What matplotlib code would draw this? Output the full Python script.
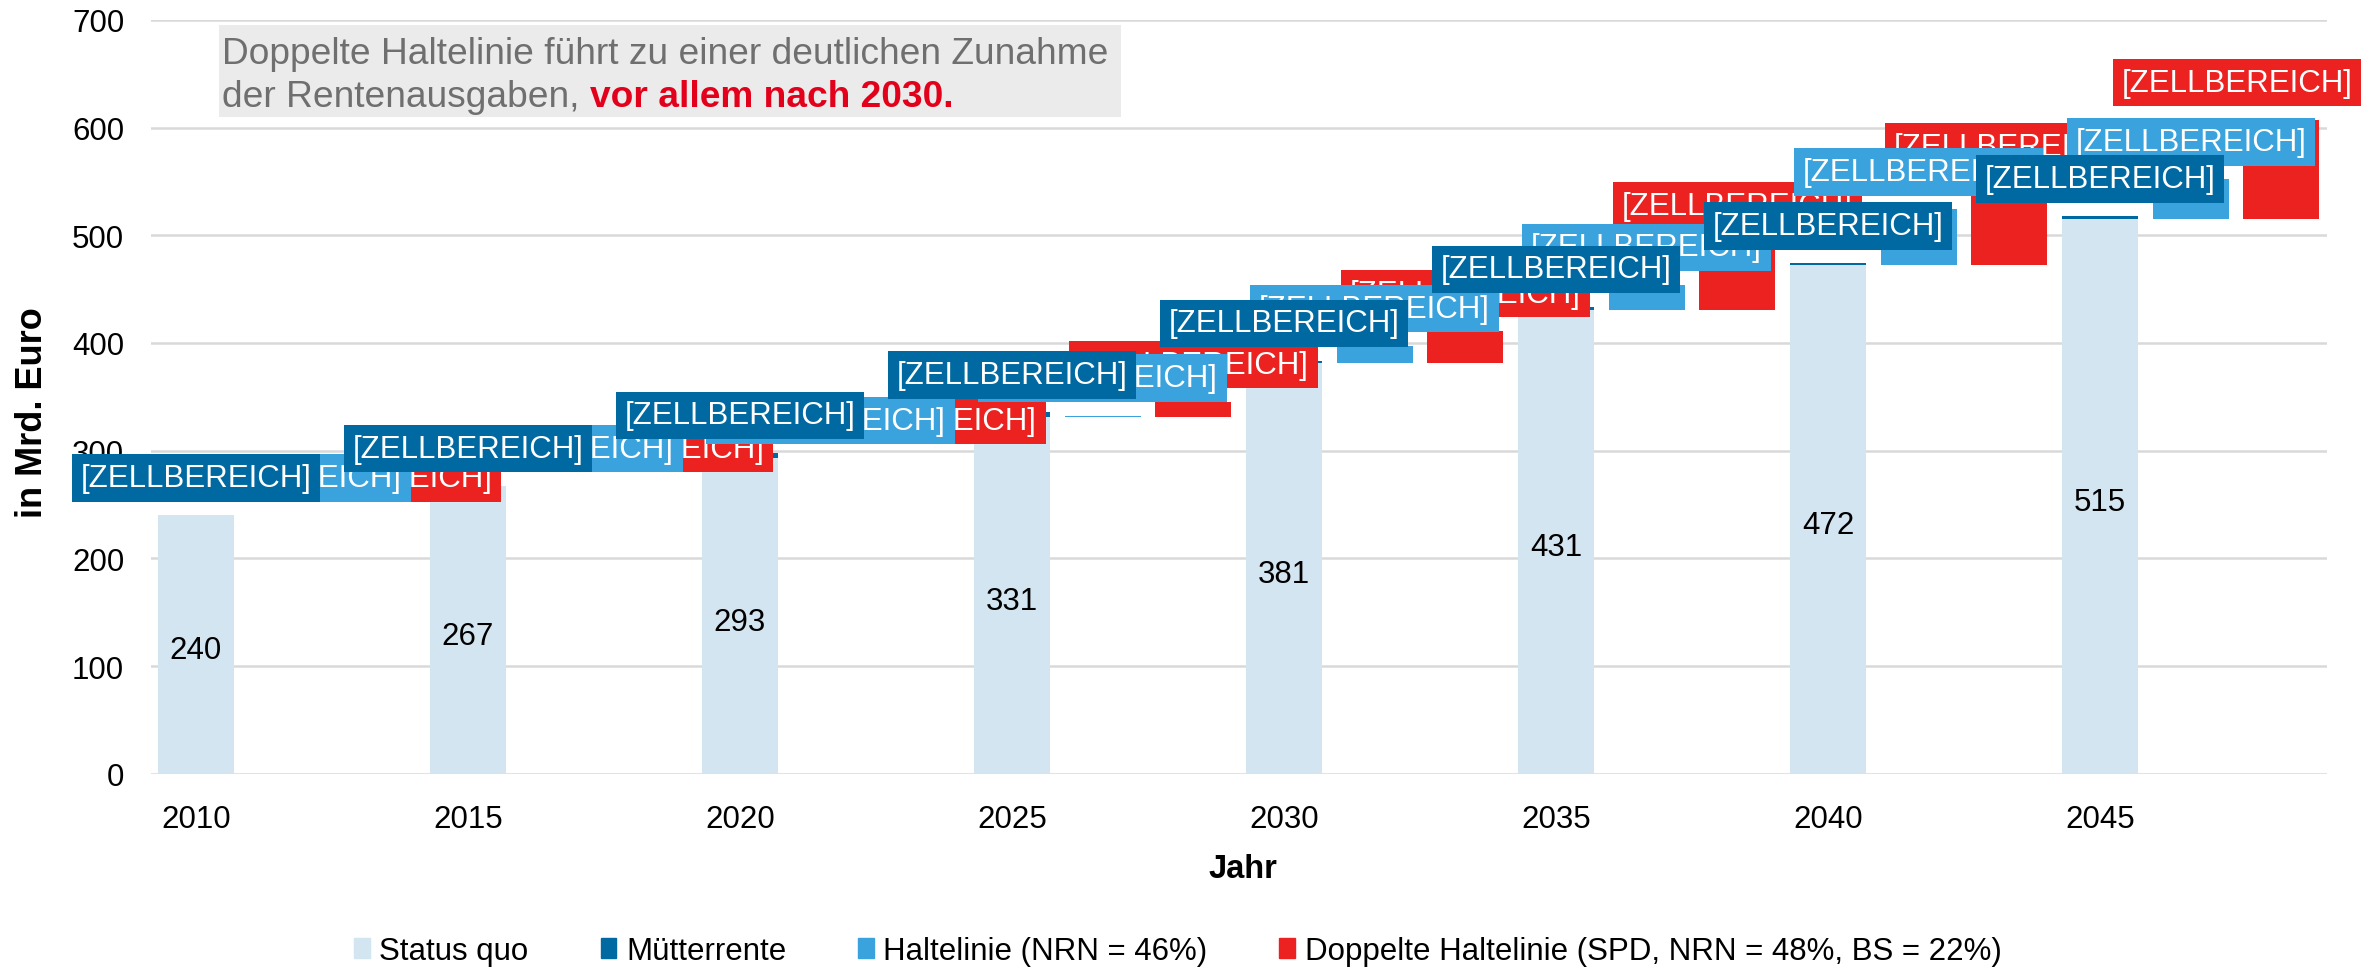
import numpy as np
import matplotlib.pyplot as plt
from matplotlib.patches import Rectangle, Patch

plt.rcParams['font.family'] = ['Liberation Sans', 'DejaVu Sans']

# values (Mrd. Euro)
years = ['2010', '2015', '2020', '2025', '2030', '2035', '2040', '2045']
status_quo = [240, 267, 293, 331, 381, 431, 472, 515]
muetterrente = [0, 0, 5, 4.5, 2.5, 2.5, 2, 2.5]
haltelinie = [0, 0, 0, 1.5, 16, 23, 52, 37]
doppelte = [0, 0, 0, 14, 30, 61.5, 75.5, 92]
series_names = ['Status quo', 'Mütterrente', 'Haltelinie (NRN = 46%)',
                'Doppelte Haltelinie (SPD, NRN = 48%, BS = 22%)']
placeholder = '[ZELLBEREICH]'

c_sq = '#D3E5F1'
c_mue = '#0169A1'
c_halte = '#3AA3DD'
c_dopp = '#EC2220'
fs = 22.5

fig = plt.figure(figsize=(23.72, 9.70), dpi=100)
ax = fig.add_axes([0.0635, 0.2012, 0.9174, 0.7773])

sq = np.array(status_quo, dtype=float)
x0 = np.arange(len(years)) * 3
w = 0.84

ax.bar(x0, sq, w, color=c_sq, zorder=2)
ax.bar(x0, muetterrente, w, bottom=sq, color=c_mue, zorder=2)
ax.bar(x0 + 1, haltelinie, w, bottom=sq, color=c_halte, zorder=2)
ax.bar(x0 + 2, doppelte, w, bottom=sq, color=c_dopp, zorder=2)

for x, v in zip(x0, status_quo):
    ax.annotate(str(v), (x, v / 2), xytext=(0, -4), textcoords='offset points',
                ha='center', va='center', fontsize=fs, zorder=3)

# data labels (broken cell-range labels), drawn red -> light blue -> dark blue
off = 27
labels = []
def place_labels(xs, tops, color, z):
    for x, t in zip(xs, tops):
        a = ax.annotate(placeholder, (x, t), xytext=(0, off), textcoords='offset points',
                        ha='center', va='center', color='white', fontsize=fs,
                        bbox=dict(boxstyle='square,pad=0.28', fc=color, ec='none'),
                        zorder=z, annotation_clip=False)
        labels.append(a)

place_labels(x0 + 2, sq + np.array(doppelte), c_dopp, 4)
place_labels(x0 + 1, sq + np.array(haltelinie), c_halte, 5)
place_labels(x0, sq + np.array(muetterrente), c_mue, 6)

ax.set_xlim(-0.5, 23.5)
ax.set_ylim(0, 700)
ax.set_yticks(range(0, 701, 100))
ax.set_xticks(x0)
ax.set_xticklabels(years)
ax.tick_params(axis='both', length=0, labelsize=fs)
ax.tick_params(axis='y', pad=19)
ax.tick_params(axis='x', pad=22)
ax.yaxis.grid(True, color='#D9D9D9', lw=1.8, zorder=0)
ax.set_axisbelow(True)
for s in ax.spines.values():
    s.set_visible(False)

fig.text(33 / 2372, 0.575, 'in Mrd. Euro', rotation=90, fontweight='bold',
         ha='center', va='center', fontsize=26)
fig.text(1243 / 2372, 0.1033, 'Jahr', fontweight='bold', ha='center', va='center', fontsize=23.5)

# comment box
fs_box = 26.7
fig.patches.append(Rectangle((0.0923, 0.8784), 0.3803, 0.0948, transform=fig.transFigure,
                             fc='#EBEBEB', ec='none', zorder=1))
fig.text(0.0936, 0.9433, 'Doppelte Haltelinie führt zu einer deutlichen Zunahme',
         color='#6F6F6F', fontsize=fs_box, ha='left', va='center', zorder=2)
t2 = fig.text(0.0936, 0.899, 'der Rentenausgaben, ', color='#6F6F6F', fontsize=fs_box,
              ha='left', va='center', zorder=2)

handles = [Patch(color=c) for c in (c_sq, c_mue, c_halte, c_dopp)]
ax.legend(handles, series_names, loc='center', bbox_to_anchor=(0.4966, 0.0185),
          bbox_transform=fig.transFigure, ncol=4, frameon=False, fontsize=fs,
          handlelength=0.5, handleheight=0.58, handletextpad=0.31, columnspacing=2.3)

fig.canvas.draw()

# red bold part right after the grey text
bb2 = t2.get_window_extent()
fig.text(bb2.x1 / fig.bbox.width, 0.899, 'vor allem nach 2030.', color='#E2001A',
         fontsize=fs_box, fontweight='bold', ha='left', va='center', zorder=2)

# keep labels inside the chart area like the spreadsheet does
limit = fig.bbox.width - 11
for a in labels:
    bb = a.get_bbox_patch().get_window_extent()
    if bb.x1 > limit:
        a.xyann = (-(bb.x1 - limit) * 72 / fig.dpi, off)

fig.savefig('out.png', dpi=100)
